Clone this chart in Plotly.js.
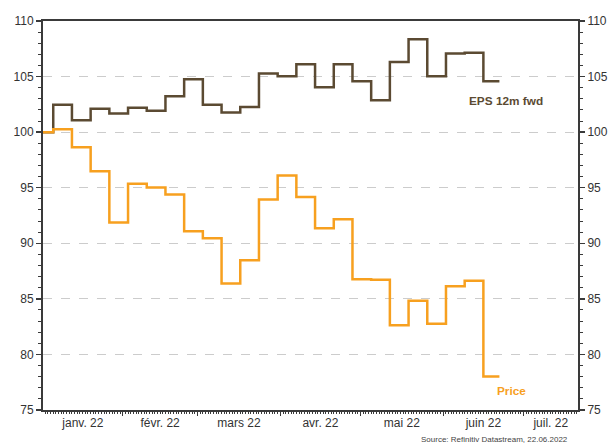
<!DOCTYPE html>
<html>
<head>
<meta charset="utf-8">
<script src="https://cdn.plot.ly/plotly-3.0.1.min.js"></script>
<style>html,body{margin:0;padding:0;background:#fff;}</style>
</head>
<body>
<div id="chart" style="width:611px;height:443px;"></div>
<script>
// Weekly observations (Thursdays), rebased to 100
const dates = ['2022-01-02 04:00','2022-01-06','2022-01-13','2022-01-20','2022-01-27',
  '2022-02-03','2022-02-10','2022-02-17','2022-02-24',
  '2022-03-03','2022-03-10','2022-03-17','2022-03-24','2022-03-31',
  '2022-04-07','2022-04-14','2022-04-21','2022-04-28',
  '2022-05-05','2022-05-12','2022-05-19','2022-05-26',
  '2022-06-02','2022-06-09','2022-06-16','2022-06-22'];
const eps = [100,102.47,101.07,102.11,101.67,
  102.2,101.93,103.24,104.76,
  102.47,101.76,102.26,105.27,105.03,
  106.1,104.05,106.1,104.58,
  102.86,106.31,108.36,105.03,
  107.08,107.14,104.58,104.58];
const price = [100,100.27,98.63,96.49,91.86,
  95.36,95.03,94.38,91.08,
  90.45,86.38,88.47,93.93,96.1,
  94.17,91.35,92.16,86.77,
  86.71,82.63,84.82,82.75,
  86.14,86.62,78.02,78.02];
const seriesNames = ['EPS 12m fwd','Price'];
const monthStarts = ['2022-01-01','2022-02-01','2022-03-01','2022-04-01','2022-05-01','2022-06-01','2022-07-01','2022-08-01'];
const monthLabels = ['janv. 22','févr. 22','mars 22','avr. 22','mai 22','juin 22','juil. 22'];
const yTicks = [75,80,85,90,95,100,105,110];
const sourceText = 'Source: Refinitiv Datastream, 22.06.2022';

const xRange = ['2022-01-02 04:00','2022-07-21 10:00'];
const t = s => new Date(s.replace(' ','T')+'Z').getTime();
const r0 = t(xRange[0]), r1 = t(xRange[1]);
const labelVals = monthLabels.map((_,i)=>{
  const a = Math.max(t(monthStarts[i]), r0), b = Math.min(t(monthStarts[i+1]), r1);
  return new Date((a+b)/2).toISOString().slice(0,19).replace('T',' ');
});

const brown = '#5b4a32', orange = '#f7a01f', axc = '#3a3a3a';
const traces = [
  {x: dates, y: eps, name: seriesNames[0], type:'scatter', mode:'lines', line:{shape:'hv', color: brown, width:2.5}},
  {x: dates, y: price, name: seriesNames[1], type:'scatter', mode:'lines', line:{shape:'hv', color: orange, width:2.5}},
  {x: [dates[0]], y:[100], xaxis:'x2', yaxis:'y2', mode:'markers', marker:{opacity:0}, hoverinfo:'skip', showlegend:false}
];
const yCommon = {range:[75,110], tickmode:'array', tickvals:yTicks, ticks:'outside', ticklen:5, tickwidth:1.5, tickcolor:axc,
  showline:true, linecolor:axc, linewidth:2, zeroline:false, fixedrange:true,
  tickfont:{family:'Liberation Sans, Arial, sans-serif', size:12, color:'#333'},
  minor:{dtick:1, ticks:'outside', ticklen:3, tickcolor:axc, tickwidth:1, showgrid:false}};
const layout = {
  width:611, height:443, margin:{l:43, r:33, t:21, b:33},
  paper_bgcolor:'#fff', plot_bgcolor:'#fff', showlegend:false,
  font:{family:'Liberation Sans, Arial, sans-serif', color:'#333'},
  xaxis:{type:'date', range:xRange, tickmode:'array', tickvals:monthStarts, showticklabels:false,
    ticks:'outside', ticklen:4, tickcolor:axc, tickwidth:1.5, showgrid:false, zeroline:false,
    showline:true, linecolor:axc, linewidth:2, mirror:true,
    minor:{dtick:86400000, ticks:'outside', ticklen:2, tickcolor:axc, tickwidth:1, showgrid:false}},
  xaxis2:{type:'date', overlaying:'x', matches:'x', side:'bottom', anchor:'y', tickmode:'array', tickvals:labelVals, ticktext:monthLabels,
    ticks:'', showgrid:false, showline:false, zeroline:false, ticklabelstandoff:4,
    tickfont:{family:'Liberation Sans, Arial, sans-serif', size:12, color:'#333'}},
  yaxis: Object.assign({}, yCommon, {side:'left', showgrid:true, gridcolor:'#cccccc', gridwidth:1, griddash:'dash'}),
  yaxis2: Object.assign({}, yCommon, {side:'right', overlaying:'y', matches:'y', showgrid:false}),
  annotations:[
    {x:'2022-06-24 10:00', y:102.76, xref:'x', yref:'y', text:'<b>'+seriesNames[0]+'</b>', showarrow:false,
      font:{size:11.8, color:brown}},
    {x:'2022-06-26 10:00', y:76.7, xref:'x', yref:'y', text:'<b>'+seriesNames[1]+'</b>', showarrow:false,
      font:{size:11.8, color:orange}},
    {x:0.985, y:-0.075, xref:'paper', yref:'paper', xanchor:'right', yanchor:'middle', text:sourceText, showarrow:false,
      font:{size:8, color:'#444'}}
  ]
};
Plotly.newPlot('chart', traces, layout, {staticPlot:true, displayModeBar:false});
</script>
</body>
</html>
